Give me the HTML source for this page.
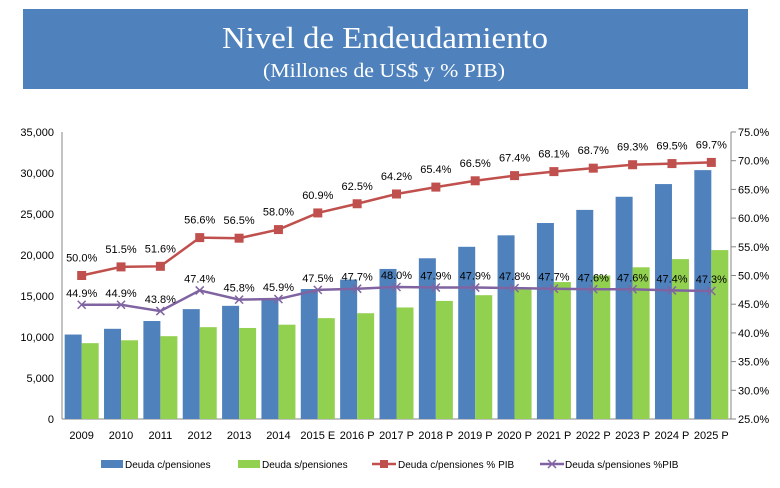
<!DOCTYPE html>
<html><head><meta charset="utf-8"><style>
body{margin:0;background:#fff;}
svg text{font-family:"Liberation Sans",sans-serif;}
</style></head><body>
<svg id="c" width="780" height="483" xmlns="http://www.w3.org/2000/svg">
<rect x="23" y="9" width="725" height="80" fill="#4f81bd"/>
<text x="385" y="48" text-anchor="middle" fill="#fff" font-size="31" style="font-family:'Liberation Serif',serif" textLength="326" lengthAdjust="spacingAndGlyphs">Nivel de Endeudamiento</text>
<text x="384" y="77" text-anchor="middle" fill="#fff" font-size="20" style="font-family:'Liberation Serif',serif" textLength="242" lengthAdjust="spacingAndGlyphs">(Millones de US$ y % PIB)</text>
<g id="g"></g>
</svg>
<script>
const categories=["2009","2010","2011","2012","2013","2014","2015 E","2016 P","2017 P","2018 P","2019 P","2020 P","2021 P","2022 P","2023 P","2024 P","2025 P"];
const deudaCon=[10300,11000,11950,13400,13800,14700,15850,17000,18300,19600,21000,22400,23900,25500,27100,28650,30350];
const deudaSin=[9250,9600,10100,11200,11100,11500,12300,12900,13600,14400,15100,16000,16700,17500,18500,19500,20600];
const pctCon=[50.0,51.5,51.6,56.6,56.5,58.0,60.9,62.5,64.2,65.4,66.5,67.4,68.1,68.7,69.3,69.5,69.7];
const pctSin=[44.9,44.9,43.8,47.4,45.8,45.9,47.5,47.7,48.0,47.9,47.9,47.8,47.7,47.6,47.6,47.4,47.3];
const leftTicks=[0,5000,10000,15000,20000,25000,30000,35000];
const rightTicks=[25,30,35,40,45,50,55,60,65,70,75];

const NS="http://www.w3.org/2000/svg", g=document.getElementById('g');
const X0=62,X1=731,Y0=419,Y1=132;
const slot=(X1-X0)/categories.length;
const yL=v=>Y0-(v/35000)*(Y0-Y1);
const yR=v=>Y0-((v-25)/50)*(Y0-Y1);
const xc=i=>X0+slot*(i+0.5);
function el(t,a){const e=document.createElementNS(NS,t);for(const k in a)e.setAttribute(k,a[k]);g.appendChild(e);return e;}
function tx(x,y,s,anchor,size){const e=el('text',{x:x,y:y,'text-anchor':anchor,'font-size':size||11,fill:'#000'});e.textContent=s;return e;}

// axes
let a=el('line',{x1:X0,y1:Y1,x2:X0,y2:Y0,stroke:'#868686'});


a=el('line',{x1:X1,y1:Y1,x2:X1,y2:Y0,stroke:'#868686'});


a=el('line',{x1:X0,y1:Y0,x2:X1,y2:Y0,stroke:'#868686'});



leftTicks.forEach(v=>{
  const t=tx(54,yL(v)+4,v.toLocaleString('en-US'),'end',11);
  
  
});
rightTicks.forEach(v=>{
  const l=el('line',{x1:X1,y1:yR(v),x2:X1+5,y2:yR(v),stroke:'#868686'});
  
  
  const t=tx(738,yR(v)+4,v.toFixed(1)+'%','start',11);
  
  
});

const bw=17;
categories.forEach((c,i)=>{
  const cx=xc(i);
  const b1=el('rect',{x:cx-bw,y:yL(deudaCon[i]),width:bw,height:Y0-yL(deudaCon[i]),fill:'#4f81bd'});
  
  
  const b2=el('rect',{x:cx,y:yL(deudaSin[i]),width:bw,height:Y0-yL(deudaSin[i]),fill:'#92d050'});
  
  
  const t=tx(cx,439,c,'middle',11);
  
  
});

function line(vals,color,id){
  const p=el('polyline',{points:vals.map((v,i)=>xc(i)+','+yR(v)).join(' '),fill:'none',stroke:color,'stroke-width':2.5});
  
  
}
line(pctCon,'#c0504d','pct-con');
line(pctSin,'#8064a2','pct-sin');
pctCon.forEach((v,i)=>{
  const m=el('rect',{x:xc(i)-4.5,y:yR(v)-4.5,width:9,height:9,fill:'#c0504d'});
  
  
  const t=tx(xc(i),yR(v)-14,v.toFixed(1)+'%','middle',11);
  
  
});
pctSin.forEach((v,i)=>{
  const x=xc(i),y=yR(v);
  const m=el('path',{d:`M${x-4},${y-4}L${x+4},${y+4}M${x-4},${y+4}L${x+4},${y-4}`,stroke:'#8064a2','stroke-width':1.5});
  
  
  const t=tx(x,y-8,v.toFixed(1)+'%','middle',11);
  
  
});

// legend
let r=el('rect',{x:101,y:460,width:22,height:8,fill:'#4f81bd'});


let t=tx(125,468,'Deuda c/pensiones','start',10);


r=el('rect',{x:238,y:460,width:22,height:8,fill:'#92d050'});


t=tx(262,468,'Deuda s/pensiones','start',10);


r=el('line',{x1:372,y1:464,x2:396,y2:464,stroke:'#c0504d','stroke-width':2.5});


r=el('rect',{x:380,y:460,width:8,height:8,fill:'#c0504d'});


t=tx(398,468,'Deuda c/pensiones % PIB','start',10);


r=el('line',{x1:540,y1:464,x2:564,y2:464,stroke:'#8064a2','stroke-width':2.5});


r=el('path',{d:'M548,460L556,468M548,468L556,460',stroke:'#8064a2','stroke-width':1.5});


t=tx(565,468,'Deuda s/pensiones %PIB','start',10);


</script>
</body></html>
